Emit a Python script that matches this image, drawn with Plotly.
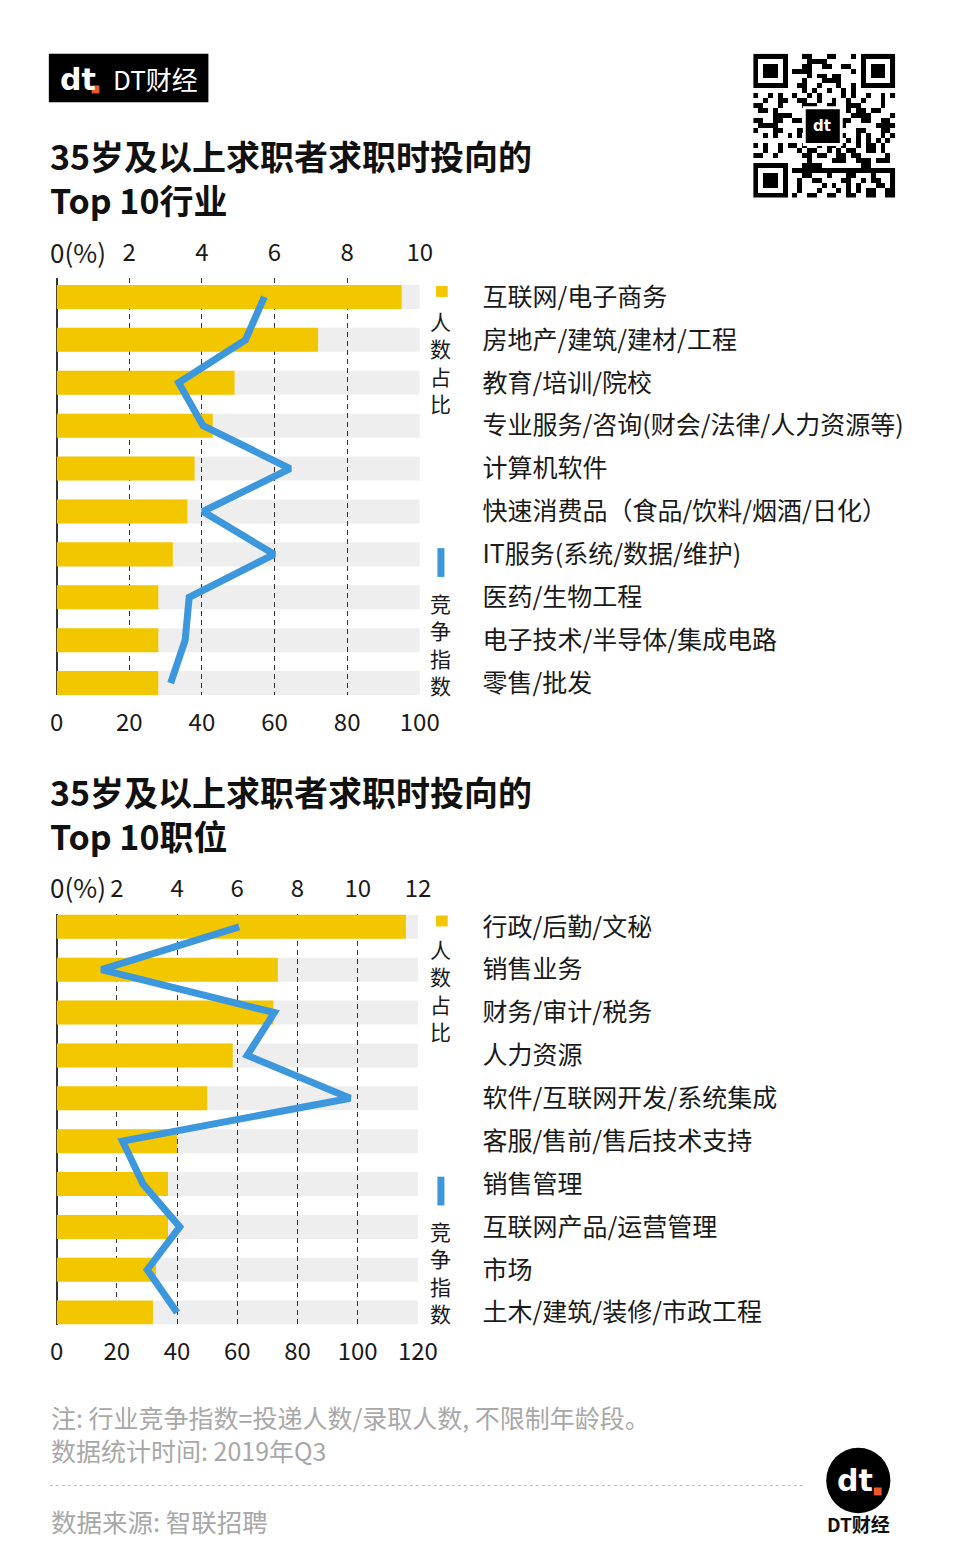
import plotly.graph_objects as go

W, H = 960, 1556
FONT = "Noto Sans CJK SC"
YELLOW = "#F2C700"
BLUE = "#3D97DD"
GRAY_BG = "rgba(0,0,0,0.065)"

# ---------------- data ----------------
industries = ["互联网/电子商务", "房地产/建筑/建材/工程", "教育/培训/院校",
              "专业服务/咨询(财会/法律/人力资源等)", "计算机软件",
              "快速消费品（食品/饮料/烟酒/日化）", "IT服务(系统/数据/维护)",
              "医药/生物工程", "电子技术/半导体/集成电路", "零售/批发"]
ind_share = [9.5, 7.2, 4.9, 4.3, 3.8, 3.6, 3.2, 2.8, 2.8, 2.8]      # 人数占比 (%)
ind_comp = [57.2, 52.0, 33.6, 40.3, 64.3, 40.3, 59.9, 36.5, 35.4, 31.4]  # 竞争指数

positions = ["行政/后勤/文秘", "销售业务", "财务/审计/税务", "人力资源",
             "软件/互联网开发/系统集成", "客服/售前/售后技术支持", "销售管理",
             "互联网产品/运营管理", "市场", "土木/建筑/装修/市政工程"]
pos_share = [11.6, 7.35, 7.2, 5.85, 5.0, 4.0, 3.7, 3.7, 3.3, 3.2]
pos_comp = [60.6, 14.9, 72.3, 63.3, 97.5, 21.9, 28.7, 40.9, 30.1, 40.0]

ind_share_ticks = [2, 4, 6, 8, 10]
ind_comp_ticks = [0, 20, 40, 60, 80, 100]
pos_share_ticks = [2, 4, 6, 8, 10, 12]
pos_comp_ticks = [0, 20, 40, 60, 80, 100, 120]

title1 = ["35岁及以上求职者求职时投向的", "Top 10行业"]
title2 = ["35岁及以上求职者求职时投向的", "Top 10职位"]
legend_share = "人数占比"
legend_comp = "竞争指数"
note_lines = ["注: 行业竞争指数=投递人数/录取人数, 不限制年龄段。", "数据统计时间: 2019年Q3"]
source_text = "数据来源: 智联招聘"
brand = "DT财经"


def px(x):
    return x / W


def py(y):
    return 1 - y / H


fig = go.Figure()

# ---------------- chart traces ----------------
def add_chart(cats, share, comp, share_max, xa_top, xa_bot, ya):
    fig.add_trace(go.Bar(y=cats, x=[share_max] * len(cats), orientation="h",
                         marker=dict(color=GRAY_BG, line=dict(width=0)),
                         width=0.56, xaxis=xa_top, yaxis=ya, hoverinfo="skip",
                         showlegend=False))
    fig.add_trace(go.Bar(y=cats, x=share, orientation="h",
                         marker=dict(color=YELLOW, line=dict(width=0)),
                         width=0.56, xaxis=xa_top, yaxis=ya, name=legend_share,
                         showlegend=False))
    fig.add_trace(go.Scatter(y=cats, x=comp, mode="lines",
                             line=dict(color=BLUE, width=7),
                             xaxis=xa_bot, yaxis=ya, name=legend_comp,
                             showlegend=False))


add_chart(industries, ind_share, ind_comp, ind_share_ticks[-1], "x", "x2", "y")
add_chart(positions, pos_share, pos_comp, pos_share_ticks[-1], "x3", "x4", "y2")

# ---------------- QR-like decoration ----------------
N = 29
qr = [[0] * N for _ in range(N)]
for i in range(N):
    for j in range(N):
        qr[i][j] = 1 if ((i * i * 3 + j * 5 + i * j * 7 + (i ^ j)) % 5) < 2 else 0
for (r0, c0) in [(0, 0), (0, N - 7), (N - 7, 0)]:
    for a in range(-1, 8):
        for b in range(-1, 8):
            r, c = r0 + a, c0 + b
            if 0 <= r < N and 0 <= c < N:
                v = 0
                if 0 <= a <= 6 and 0 <= b <= 6:
                    if a in (0, 6) or b in (0, 6) or (2 <= a <= 4 and 2 <= b <= 4):
                        v = 1
                qr[r][c] = v
fig.add_trace(go.Heatmap(z=qr, xaxis="x5", yaxis="y3", showscale=False,
                         colorscale=[[0, "white"], [1, "black"]], hoverinfo="skip"))

tickfont = dict(family=FONT, size=24, color="#1a1a1a")
catfont = dict(family=FONT, size=25, color="#1a1a1a")
clear = "rgba(0,0,0,0)"

c1x = [px(51), px(425)]
c1y = [py(693), py(273)]
c2x = [px(51), px(423)]
c2y = [py(1327), py(913)]

fig.update_layout(
    width=W, height=H, autosize=False, margin=dict(l=0, r=0, t=0, b=0, pad=0),
    paper_bgcolor="white", plot_bgcolor="white",
    barmode="overlay", showlegend=False,
    font=dict(family=FONT),
    # chart 1
    xaxis=dict(domain=c1x, anchor="y", side="top", range=[0, 10.02],
               tickvals=ind_share_ticks, tickfont=tickfont,
               ticks="outside", ticklen=6, tickcolor=clear,
               showgrid=True, gridcolor="#333", gridwidth=1, griddash="5px,4px",
               zeroline=True, zerolinecolor="#333", zerolinewidth=2,
               showline=False),
    xaxis2=dict(overlaying="x", anchor="y", side="bottom", range=[0, 100.2],
                tickvals=ind_comp_ticks, tickfont=tickfont,
                ticks="outside", ticklen=6, tickcolor=clear,
                showgrid=False, zeroline=False, showline=False),
    yaxis=dict(domain=c1y, anchor="x", side="right", type="category",
               range=[9.28, -0.44], tickfont=catfont,
               ticks="outside", ticklen=56, tickcolor=clear,
               showgrid=False, zeroline=False, showline=False),
    # chart 2
    xaxis3=dict(domain=c2x, anchor="y2", side="top", range=[0, 12.02],
                tickvals=pos_share_ticks, tickfont=tickfont,
                ticks="outside", ticklen=6, tickcolor=clear,
                showgrid=True, gridcolor="#333", gridwidth=1, griddash="5px,4px",
                zeroline=True, zerolinecolor="#333", zerolinewidth=2,
                showline=False),
    xaxis4=dict(overlaying="x3", anchor="y2", side="bottom", range=[0, 120.2],
                tickvals=pos_comp_ticks, tickfont=tickfont,
                ticks="outside", ticklen=6, tickcolor=clear,
                showgrid=False, zeroline=False, showline=False),
    yaxis2=dict(domain=c2y, anchor="x3", side="right", type="category",
                range=[9.28, -0.31], tickfont=catfont,
                ticks="outside", ticklen=58, tickcolor=clear,
                showgrid=False, zeroline=False, showline=False),
    # QR
    xaxis5=dict(domain=[px(767), px(913)], anchor="y3", visible=False,
                range=[-0.5, N - 0.5]),
    yaxis3=dict(domain=[py(192), py(47)], anchor="x5", visible=False,
                range=[N - 0.5, -0.5]),
)

ann = []
shapes = []

# "0(%)" labels on the top axes
ann.append(dict(xref="x", yref="paper", x=0, y=py(246), text="0(%)",
                xanchor="left", yanchor="middle", xshift=-9, showarrow=False,
                font=dict(family=FONT, size=26, color="#1a1a1a")))
ann.append(dict(xref="x3", yref="paper", x=0, y=py(886), text="0(%)",
                xanchor="left", yanchor="middle", xshift=-9, showarrow=False,
                font=dict(family=FONT, size=26, color="#1a1a1a")))

# titles (two lines in one text block)
for lines, y in [(title1, 172), (title2, 812)]:
    ann.append(dict(xref="paper", yref="paper", x=px(42), y=py(y),
                    text="<b>" + lines[0] + "</b><br><b>" + lines[1] + "</b>",
                    xanchor="left", yanchor="middle", align="left", showarrow=False,
                    font=dict(family=FONT, size=34, color="#111")))

# legends (vertical text, one annotation each)
def vertical_legend(sq_y, share_mid, line_y0, line_y1, comp_mid):
    shapes.append(dict(type="rect", xref="paper", yref="paper",
                       x0=px(441), x1=px(453), y0=py(sq_y + 11), y1=py(sq_y),
                       fillcolor=YELLOW, line=dict(width=0)))
    ann.append(dict(xref="paper", yref="paper", x=px(446), y=py(share_mid),
                    text="<br>".join(legend_share),
                    xanchor="center", yanchor="middle", showarrow=False,
                    font=dict(family=FONT, size=21, color="#1a1a1a")))
    shapes.append(dict(type="line", xref="paper", yref="paper",
                       x0=px(446), x1=px(446), y0=py(line_y0), y1=py(line_y1),
                       line=dict(color=BLUE, width=7)))
    ann.append(dict(xref="paper", yref="paper", x=px(446), y=py(comp_mid),
                    text="<br>".join(legend_comp),
                    xanchor="center", yanchor="middle", showarrow=False,
                    font=dict(family=FONT, size=21, color="#1a1a1a")))


vertical_legend(281, 358, 545, 574, 642)
vertical_legend(915, 990, 1178, 1207, 1274)

# header logo box
shapes.append(dict(type="rect", xref="paper", yref="paper", x0=px(43), x1=px(207),
                   y0=py(96), y1=py(47), fillcolor="black", line=dict(width=0)))
ann.append(dict(xref="paper", yref="paper", x=px(52), y=py(73), text="<b>dt</b>",
                xanchor="left", yanchor="middle", showarrow=False,
                font=dict(family="DejaVu Sans", size=30, color="white")))
shapes.append(dict(type="rect", xref="paper", yref="paper", x0=px(87), x1=px(95),
                   y0=py(87), y1=py(79), fillcolor="#E8582A", line=dict(width=0)))
ann.append(dict(xref="paper", yref="paper", x=px(107), y=py(72), text=brand,
                xanchor="left", yanchor="middle", showarrow=False,
                font=dict(family=FONT, size=26, color="white")))

# QR center logo
shapes.append(dict(type="rect", xref="paper", yref="paper", x0=px(818), x1=px(859),
                   y0=py(140), y1=py(100), fillcolor="white", line=dict(width=0)))
shapes.append(dict(type="rect", xref="paper", yref="paper", x0=px(821), x1=px(856),
                   y0=py(137), y1=py(103), fillcolor="black", line=dict(width=0)))
ann.append(dict(xref="paper", yref="paper", x=px(838), y=py(120), text="<b>dt</b>",
                xanchor="center", yanchor="middle", showarrow=False,
                font=dict(family="DejaVu Sans", size=15, color="white")))

# footer
ann.append(dict(xref="paper", yref="paper", x=px(43), y=py(1437),
                text=note_lines[0] + "<br>" + note_lines[1],
                xanchor="left", yanchor="middle", align="left", showarrow=False,
                font=dict(family=FONT, size=25, color="#a8a8a8")))
ann.append(dict(xref="paper", yref="paper", x=px(43), y=py(1524), text=source_text,
                xanchor="left", yanchor="middle", showarrow=False,
                font=dict(family=FONT, size=25.5, color="#a8a8a8")))
shapes.append(dict(type="line", xref="paper", yref="paper", x0=px(44), x1=px(818),
                   y0=py(1489), y1=py(1489), line=dict(color="#bbbbbb", width=1, dash="dot")))

# bottom-right logo
shapes.append(dict(type="circle", xref="paper", yref="paper", x0=px(842), x1=px(908),
                   y0=py(1517), y1=py(1451), fillcolor="black", line=dict(width=0)))
ann.append(dict(xref="paper", yref="paper", x=px(872), y=py(1484), text="<b>dt</b>",
                xanchor="center", yanchor="middle", showarrow=False,
                font=dict(family="DejaVu Sans", size=30, color="white")))
shapes.append(dict(type="rect", xref="paper", yref="paper", x0=px(891), x1=px(899),
                   y0=py(1499), y1=py(1491), fillcolor="#E8582A", line=dict(width=0)))
ann.append(dict(xref="paper", yref="paper", x=px(875), y=py(1527), text="<b>" + brand + "</b>",
                xanchor="center", yanchor="middle", showarrow=False,
                font=dict(family=FONT, size=19, color="#111")))

fig.update_layout(annotations=ann, shapes=shapes)

fig.write_html("out.html",
               post_script="document.body.style.margin='0px';document.body.style.padding='0px';document.documentElement.style.overflow='hidden';",
               config={"displayModeBar": False, "responsive": False})
